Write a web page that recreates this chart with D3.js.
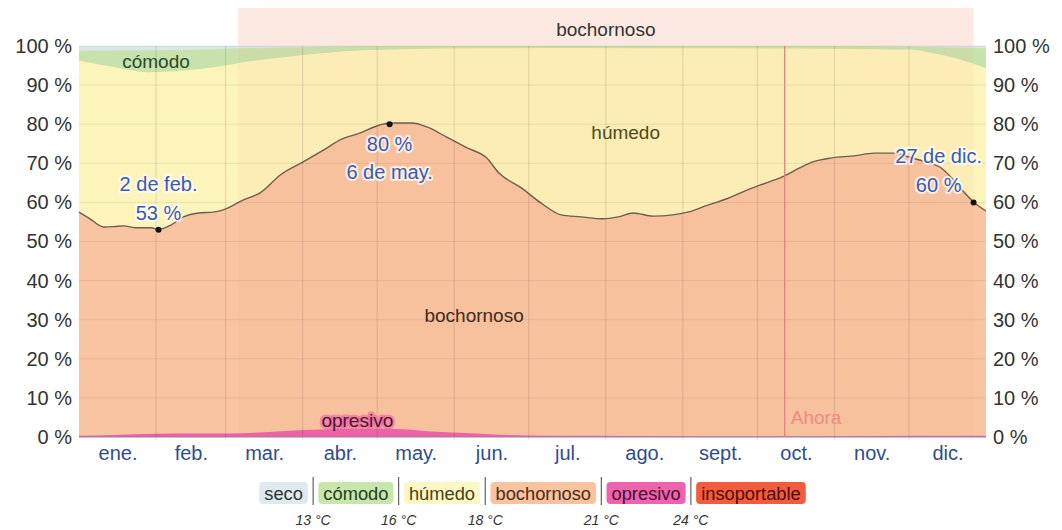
<!DOCTYPE html>
<html>
<head>
<meta charset="utf-8">
<script src="https://cdn.jsdelivr.net/npm/d3@7"></script>
<style>
body { margin: 0; background: #fff; }
svg text { font-family: "Liberation Sans", Arial, sans-serif; }
</style>
</head>
<body>
<div id="chart"></div>
<script>
var width = 1062, height = 530

// months
var months = ['ene.', 'feb.', 'mar.', 'abr.', 'may.', 'jun.', 'jul.', 'ago.', 'sept.', 'oct.', 'nov.', 'dic.']
var monthStart = [0, 31, 59, 90, 120, 151, 181, 212, 243, 273, 304, 334, 365]

// % of time muggy or worse (bochornoso + opresivo + insoportable)
var muggyDays = [0, 4, 10, 14, 18, 23, 29, 32, 37, 42, 48, 54, 60, 66, 73, 81, 90, 100, 105, 113, 121, 125, 134, 140, 148, 156, 164, 169, 178, 186, 194, 202, 211, 217, 223, 231, 239, 245, 253, 261, 269, 274, 283, 290, 295, 303, 312, 320, 328, 334, 341, 347, 352, 356, 360, 365]
var muggyPct  = [57.5, 56, 53.7, 53.8, 54, 53.5, 53.5, 53.1, 54.2, 56.3, 57.3, 57.5, 58.6, 60.6, 62.5, 67, 70.3, 74, 76, 77.7, 79.8, 80.3, 80.3, 79.3, 76.7, 74, 71.4, 67.5, 63.7, 59.8, 56.8, 56.3, 55.8, 56.3, 57.3, 56.5, 56.8, 57.5, 59.3, 61, 63.2, 64.4, 66.5, 68.8, 70.3, 71.4, 71.9, 72.6, 72.6, 71.6, 70.3, 68.8, 65.7, 62.7, 60.1, 57.8]

// % of time oppressive or worse
var oppDays = [0, 15, 31, 45, 60, 75, 88, 100, 115, 130, 140, 155, 165, 180, 200, 250, 300, 340, 365]
var oppPct  = [0.3, 0.5, 0.8, 0.9, 0.9, 1.2, 1.7, 2.0, 2.1, 2.0, 1.5, 1.0, 0.7, 0.4, 0.3, 0.2, 0.2, 0.3, 0.3]

// % of time humid or worse (top of húmedo)
var humidDays = [0, 15, 28, 40, 55, 70, 85, 100, 115, 130, 160, 200, 250, 300, 320, 334, 345, 355, 365]
var humidPct  = [96.2, 94.5, 93.3, 93.6, 94.6, 96.2, 97.3, 98.3, 98.9, 99.2, 99.4, 99.5, 99.4, 99.3, 99.2, 99.1, 98, 96.5, 94.4]

// % of time comfortable or worse (top of cómodo)
var comfyDays = [0, 31, 59, 90, 120, 300, 334, 365]
var comfyPct  = [98.8, 98.9, 99.3, 99.7, 100, 100, 99.8, 99.4]

var annotations = [
  {day: 32, pct: 53, date: '2 de feb.', pos: 'above'},
  {day: 125, pct: 80, date: '6 de may.', pos: 'below'},
  {day: 360, pct: 60, date: '27 de dic.', pos: 'above'}
]

var muggyStart = 64, muggyEnd = 360, nowDay = 284

var legendNames = ['seco', 'cómodo', 'húmedo', 'bochornoso', 'opresivo', 'insoportable']
var legendFill  = ['#dfeaee', '#c8e5ab', '#fcf8c6', '#f9c3a0', '#ee63ad', '#f35b3e']
var legendInk   = ['#2c3436', '#24401c', '#45421a', '#4a2a18', '#4a0c2c', '#4a0c02']
var thresholds  = ['13 °C', '16 °C', '18 °C', '21 °C', '24 °C']

var areaFill = {seco: '#dbe6e9', comodo: '#c7e2ac', humedo: '#fcf4ba', bochornoso: '#f9c4a1', opresivo: '#ee5fa7'}

var x = d3.scaleLinear().domain([0, 365]).range([79, 986])
var y = d3.scaleLinear().domain([0, 100]).range([437, 46])

var svg = d3.select('#chart').append('svg')
    .attr('width', width).attr('height', height)

function zip(a, b){ return a.map(function(d, i){ return [d, b[i]] }) }

var area = d3.area()
    .x(function(d){ return x(d[0]) })
    .y0(y(0))
    .y1(function(d){ return y(d[1]) })
    .curve(d3.curveMonotoneX)

// top band for the muggy season
svg.append('rect')
    .attr('x', x(muggyStart)).attr('width', x(muggyEnd) - x(muggyStart))
    .attr('y', 8).attr('height', y(100) - 8)
    .attr('fill', '#f8b59c').attr('fill-opacity', 0.3)
svg.append('text')
    .attr('x', (x(muggyStart) + x(muggyEnd)) / 2).attr('y', 36)
    .attr('text-anchor', 'middle').attr('font-size', 19).attr('fill', '#333')
    .text('bochornoso')

// stacked bands, painted top down
svg.append('path').datum([[0, 100], [365, 100]]).attr('d', area).attr('fill', areaFill.seco)
svg.append('path').datum(zip(comfyDays, comfyPct)).attr('d', area).attr('fill', areaFill.comodo)
svg.append('path').datum(zip(humidDays, humidPct)).attr('d', area).attr('fill', areaFill.humedo)
svg.append('path').datum(zip(muggyDays, muggyPct)).attr('d', area).attr('fill', areaFill.bochornoso)
svg.append('path').datum(zip(oppDays, oppPct)).attr('d', area).attr('fill', areaFill.opresivo)

// season highlight over the plot
svg.append('rect')
    .attr('x', x(muggyStart)).attr('width', x(muggyEnd) - x(muggyStart))
    .attr('y', y(100)).attr('height', y(0) - y(100))
    .attr('fill', '#f2a080').attr('fill-opacity', 0.07)

// grid
svg.append('g').selectAll('line').data(d3.range(0, 101, 10)).join('line')
    .attr('x1', x(0)).attr('x2', x(365))
    .attr('y1', function(d){ return y(d) }).attr('y2', function(d){ return y(d) })
    .attr('stroke', '#000').attr('stroke-opacity', 0.07)
svg.append('g').selectAll('line').data(monthStart.slice(1, 12)).join('line')
    .attr('x1', function(d){ return x(d) }).attr('x2', function(d){ return x(d) })
    .attr('y1', y(100)).attr('y2', y(0) + 3)
    .attr('stroke', '#000').attr('stroke-opacity', 0.12)

// muggy line
svg.append('path').datum(zip(muggyDays, muggyPct))
    .attr('d', d3.line().curve(d3.curveMonotoneX)
      .x(function(d){ return x(d[0]) }).y(function(d){ return y(d[1]) }))
    .attr('fill', 'none').attr('stroke', '#6e5f4c').attr('stroke-width', 1.4)

svg.append('line')
    .attr('x1', x(0)).attr('x2', x(365)).attr('y1', y(0)).attr('y2', y(0))
    .attr('stroke', '#9d86a8').attr('stroke-width', 1)

// now
svg.append('line')
    .attr('x1', x(nowDay)).attr('x2', x(nowDay)).attr('y1', y(100)).attr('y2', y(0))
    .attr('stroke', '#e08080').attr('stroke-width', 1.3)
svg.append('text')
    .attr('x', x(nowDay) + 6).attr('y', y(0) - 13)
    .attr('font-size', 19).attr('fill', '#f08a84')
    .text('Ahora')

// band labels
function bandLabel(txt, day, pct, ink, halo){
  var t = svg.append('text')
      .attr('x', x(day)).attr('y', y(pct))
      .attr('text-anchor', 'middle').attr('dy', '0.35em')
      .attr('font-size', 19).attr('fill', ink)
      .text(txt)
  if (halo) t.attr('stroke', halo).attr('stroke-width', 5).attr('stroke-opacity', 0.6)
      .attr('stroke-linejoin', 'round').attr('paint-order', 'stroke')
}
bandLabel('cómodo', 31, 96, '#2c4a26')
bandLabel('húmedo', 220, 78, '#4e4a1c')
bandLabel('bochornoso', 159, 31, '#3f2a1e')
bandLabel('opresivo', 112, 4.3, '#4a1430', '#ee5fa7')

// annotations
annotations.forEach(function(a){
  var cx = x(a.day), cy = y(a.pct)
  var lines = a.pos == 'above' ? [a.date, a.pct + ' %'] : [a.pct + ' %', a.date]
  var g = svg.append('g')
  var texts = g.selectAll('text').data(lines).join('text')
      .attr('text-anchor', 'middle').attr('font-size', 20)
      .attr('fill', '#3a5ab2')
      .attr('stroke', '#fff').attr('stroke-width', 4).attr('stroke-opacity', 0.75)
      .attr('stroke-linejoin', 'round').attr('paint-order', 'stroke')
      .text(function(d){ return d })
  var w = d3.max(texts.nodes(), function(n){ return n.getComputedTextLength() })
  var tx = Math.min(cx, x(365) - 4 - w / 2)
  texts.attr('x', tx)
      .attr('y', function(d, i){
        return a.pos == 'above' ? cy - 39 + i * 29 : cy + 27 + i * 28
      })
  svg.append('circle').attr('cx', cx).attr('cy', cy).attr('r', 3).attr('fill', '#111')
})

// axes
var yLeft = svg.append('g').attr('transform', 'translate(' + x(0) + ',0)')
    .call(d3.axisLeft(y).tickValues(d3.range(0, 101, 10)).tickSize(0).tickPadding(7)
      .tickFormat(function(d){ return d + ' %' }))
var yRight = svg.append('g').attr('transform', 'translate(' + x(365) + ',0)')
    .call(d3.axisRight(y).tickValues(d3.range(0, 101, 10)).tickSize(0).tickPadding(7)
      .tickFormat(function(d){ return d + ' %' }))
var xAxis = svg.append('g').attr('transform', 'translate(0,' + y(0) + ')')
    .call(d3.axisBottom(x).tickSize(0).tickPadding(9)
      .tickValues(months.map(function(m, i){ return (monthStart[i] + monthStart[i + 1]) / 2 }))
      .tickFormat(function(d, i){ return months[i] }))
;[yLeft, yRight, xAxis].forEach(function(g){
  g.select('.domain').remove()
  g.selectAll('text').attr('font-family', '"Liberation Sans", Arial, sans-serif').attr('font-size', 20)
})
yLeft.selectAll('text').attr('fill', '#333')
yRight.selectAll('text').attr('fill', '#333')
xAxis.selectAll('text').attr('fill', '#2f4d8f')

// legend
var legend = svg.append('g')
var items = legendNames.map(function(name, i){ return {name: name, fill: legendFill[i], ink: legendInk[i]} })
var itemG = legend.selectAll('g').data(items).join('g')
itemG.append('rect')
itemG.append('text')
    .attr('font-family', '"Open Sans", sans-serif').attr('font-size', 18.3)
    .attr('fill', function(d){ return d.ink })
    .text(function(d){ return d.name })
var pad = 5, gap = 10.5, cur = 0
itemG.each(function(d){
  d.w = this.querySelector('text').getComputedTextLength() + pad * 2
  d.x = cur
  cur += d.w + gap
})
var total = cur - gap
var x0 = (x(0) + x(365)) / 2 - total / 2
itemG.attr('transform', function(d){ return 'translate(' + (x0 + d.x) + ',482)' })
itemG.select('rect').attr('width', function(d){ return d.w }).attr('height', 22).attr('rx', 4)
    .attr('fill', function(d){ return d.fill })
itemG.select('text').attr('x', pad).attr('y', 17.5)

items.slice(1).forEach(function(d, i){
  var sx = x0 + d.x - gap / 2
  legend.append('line').attr('x1', sx).attr('x2', sx).attr('y1', 477).attr('y2', 505)
      .attr('stroke', '#444').attr('stroke-width', 1)
  legend.append('text').attr('x', sx).attr('y', 525).attr('text-anchor', 'middle')
      .attr('font-family', '"Open Sans", sans-serif').attr('font-style', 'italic')
      .attr('font-size', 14).attr('fill', '#333')
      .text(thresholds[i])
})
</script>
</body>
</html>
